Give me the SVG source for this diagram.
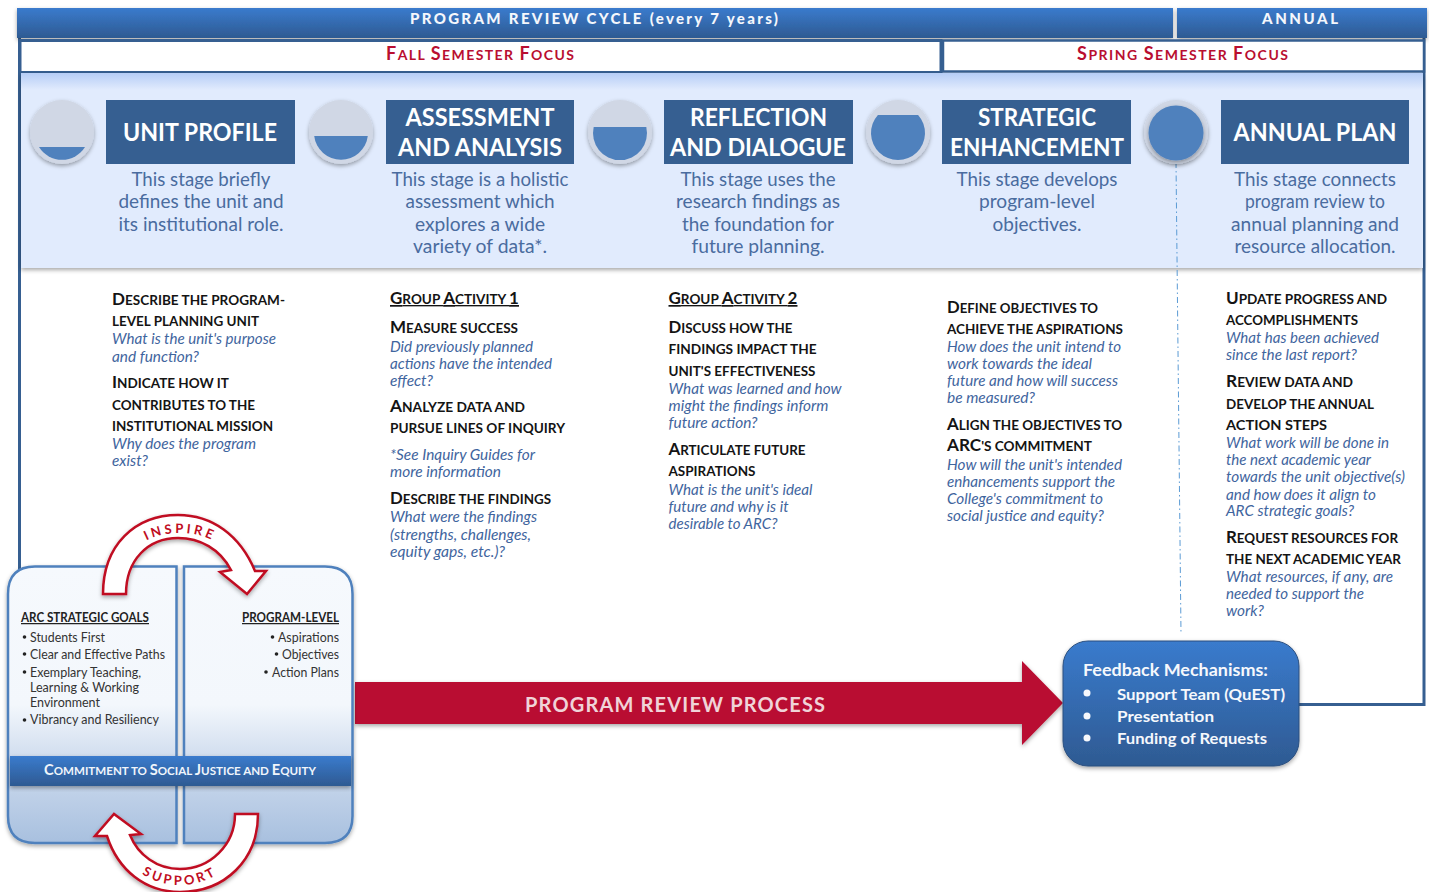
<svg xmlns="http://www.w3.org/2000/svg" width="1429" height="892" viewBox="0 0 1429 892">
<style>
text{font-family:"Lato","Carlito","Open Sans",sans-serif}
.bar{font-weight:900;font-size:15px;fill:#f4f7fc}
.sem{font-weight:700;font-size:14px;fill:#b90e30}
.sem .c{font-size:18px}
.title{font-weight:700;font-size:25px;fill:#fff;text-anchor:middle}
.desc{font-size:18.5px;fill:#4a6c9f;text-anchor:middle}
.h{font-weight:700;font-size:13.500px;fill:#141414}
.c{font-size:17px}
.u{text-decoration:underline}
.q{font-style:italic;font-size:14.500px;fill:#3f659e}
.sq{fill:#365f91}
.disc{fill:#d0d7e5;filter:url(#sh)}
.lvl{fill:#4f81bd}
.pl{fill:url(#pan);stroke:#4f81bd;stroke-width:2.500}
.li{font-size:12.500px;fill:#333}
.lh{font-weight:700;font-size:12.500px;fill:#222;text-decoration:underline}
.dot{fill:#222}
.curve{fill:#fff;stroke:#c00d22;stroke-width:2.500;stroke-linejoin:miter;filter:url(#sh)}
.ct{font-weight:700;font-size:13px;fill:#c00d22;letter-spacing:3px;text-anchor:middle}
.fb{font-weight:700;font-size:16px;fill:#f6f8fc}
.cm{font-size:11.500px;font-weight:700;fill:#f0f5fb}
.cm .c{font-size:14.500px}
</style>
<defs>
<linearGradient id="blue" x1="0" y1="0" x2="0" y2="1"><stop offset="0" stop-color="#3a7bcd"/><stop offset="1" stop-color="#2e5a92"/></linearGradient>
<linearGradient id="pan" x1="0" y1="0" x2="0" y2="1"><stop offset="0" stop-color="#f6f9fd"/><stop offset=".5" stop-color="#f3f7fc"/><stop offset=".7" stop-color="#cfdcee"/><stop offset="1" stop-color="#a8c0df"/></linearGradient>
<linearGradient id="top" x1="0" y1="0" x2="0" y2="1"><stop offset="0" stop-color="#b6cdf6"/><stop offset="1" stop-color="#e1ebfd"/></linearGradient>
<filter id="sh" x="-15%" y="-15%" width="130%" height="135%"><feDropShadow dx="0" dy="2" stdDeviation="2" flood-color="#000" flood-opacity=".35"/></filter>
<path id="inspirePath" d="M117,594 C117,553 145,533 180,533 C215,533 243,553 243,594"/>
<path id="supportPath" d="M109,814 A71 71 0 0 0 251,814"/>
</defs>

<g id="frame">
<path d="M19.500,38V570M1424,38V704.500H1299" fill="none" stroke="#365f91" stroke-width="3"/>
</g>

<g id="header-cycle"><rect x="17" y="8" width="1156" height="30" fill="url(#blue)" filter="url(#sh)"/>
<text class="bar" x="410" y="24" textLength="368" lengthAdjust="spacing">PROGRAM REVIEW CYCLE (every 7 years)</text></g>
<g id="header-annual"><rect x="1177" y="8" width="250" height="30" fill="url(#blue)" filter="url(#sh)"/>
<text class="bar" x="1262" y="24" textLength="76" lengthAdjust="spacing">ANNUAL</text></g>
<g id="fall"><rect x="20" y="40.500" width="921" height="32" fill="#fff" stroke="#365f91" stroke-width="3"/>
<text class="sem" x="386" y="60" textLength="188" lengthAdjust="spacing"><tspan class="c">F</tspan>ALL <tspan class="c">S</tspan>EMESTER <tspan class="c">F</tspan>OCUS</text></g>
<g id="spring"><rect x="943" y="40.500" width="481" height="31" fill="#fff" stroke="#365f91" stroke-width="2.500"/>
<text class="sem" x="1077" y="60" textLength="211" lengthAdjust="spacing"><tspan class="c">S</tspan>PRING <tspan class="c">S</tspan>EMESTER <tspan class="c">F</tspan>OCUS</text></g>

<g id="band">
<rect x="21" y="73" width="1402" height="195" fill="#e1ebfd" filter="url(#sh)"/>
<rect x="21" y="73" width="1402" height="17" fill="url(#top)"/>
</g>

<g id="connectors">
<path d="M1176,162L1181,634" fill="none" stroke="#5b9bd5" stroke-width="1" stroke-dasharray="6 3 1.500 3"/>
<path id="process-arrow" d="M355,682H1022V661L1063,703L1022,745V724H355Z" fill="#b90e30" filter="url(#sh)"/>
</g>
<text id="process-label" x="525" y="712" font-size="20" font-weight="700" fill="#f0d3d8" textLength="300" lengthAdjust="spacing">PROGRAM REVIEW PROCESS</text>

<g id="stage-1">
<circle class="disc" cx="62" cy="132" r="32"/><path class="lvl" d="M39,147H85A27 27 0 0 1 39,147Z"/>
<rect class="sq" x="106" y="100" width="189" height="64"/>
<text class="title" x="200" y="141" textLength="154" lengthAdjust="spacingAndGlyphs">UNIT PROFILE</text>
<text class="desc" x="201" y="186" textLength="139" lengthAdjust="spacingAndGlyphs">This stage briefly</text>
<text class="desc" x="201" y="208" textLength="165" lengthAdjust="spacingAndGlyphs">defines the unit and</text>
<text class="desc" x="201" y="231" textLength="165" lengthAdjust="spacingAndGlyphs">its institutional role.</text>
<text class="h" x="112" y="305" textLength="173" lengthAdjust="spacingAndGlyphs"><tspan class="c">D</tspan>ESCRIBE THE PROGRAM-</text>
<text class="h" x="112" y="326" textLength="147" lengthAdjust="spacingAndGlyphs">LEVEL PLANNING UNIT</text>
<text class="q" x="112" y="344" textLength="164" lengthAdjust="spacingAndGlyphs">What is the unit's purpose</text>
<text class="q" x="112" y="362" textLength="87" lengthAdjust="spacingAndGlyphs">and function?</text>
<text class="h" x="112" y="388" textLength="117" lengthAdjust="spacingAndGlyphs"><tspan class="c">I</tspan>NDICATE HOW IT</text>
<text class="h" x="112" y="410" textLength="143" lengthAdjust="spacingAndGlyphs">CONTRIBUTES TO THE</text>
<text class="h" x="112" y="431" textLength="161" lengthAdjust="spacingAndGlyphs">INSTITUTIONAL MISSION</text>
<text class="q" x="112" y="449" textLength="144" lengthAdjust="spacingAndGlyphs">Why does the program</text>
<text class="q" x="112" y="466" textLength="36" lengthAdjust="spacingAndGlyphs">exist?</text>
</g>

<g id="stage-2">
<circle class="disc" cx="341" cy="132" r="32"/><path class="lvl" d="M314.200,136H367.800A27 27 0 0 1 314.200,136Z"/>
<rect class="sq" x="386" y="100" width="188" height="64"/>
<text class="title" x="480" y="126" textLength="149" lengthAdjust="spacingAndGlyphs">ASSESSMENT</text>
<text class="title" x="480" y="156" textLength="164" lengthAdjust="spacingAndGlyphs">AND ANALYSIS</text>
<text class="desc" x="480" y="186" textLength="177" lengthAdjust="spacingAndGlyphs">This stage is a holistic</text>
<text class="desc" x="480" y="208" textLength="149" lengthAdjust="spacingAndGlyphs">assessment which</text>
<text class="desc" x="480" y="231" textLength="130" lengthAdjust="spacingAndGlyphs">explores a wide</text>
<text class="desc" x="480" y="253" textLength="134" lengthAdjust="spacingAndGlyphs">variety of data*.</text>
<text class="h u" x="390" y="304" textLength="129" lengthAdjust="spacingAndGlyphs"><tspan class="c">G</tspan>ROUP <tspan class="c">A</tspan>CTIVITY <tspan class="c">1</tspan></text>
<text class="h" x="390" y="333" textLength="128" lengthAdjust="spacingAndGlyphs"><tspan class="c">M</tspan>EASURE SUCCESS</text>
<text class="q" x="390" y="352" textLength="143" lengthAdjust="spacingAndGlyphs">Did previously planned</text>
<text class="q" x="390" y="369" textLength="162" lengthAdjust="spacingAndGlyphs">actions have the intended</text>
<text class="q" x="390" y="386" textLength="43" lengthAdjust="spacingAndGlyphs">effect?</text>
<text class="h" x="390" y="412" textLength="135" lengthAdjust="spacingAndGlyphs"><tspan class="c">A</tspan>NALYZE DATA AND</text>
<text class="h" x="390" y="433" textLength="175" lengthAdjust="spacingAndGlyphs">PURSUE LINES OF INQUIRY</text>
<text class="q" x="390" y="460" textLength="145" lengthAdjust="spacingAndGlyphs">*See Inquiry Guides for</text>
<text class="q" x="390" y="477" textLength="111" lengthAdjust="spacingAndGlyphs">more information</text>
<text class="h" x="390" y="504" textLength="161" lengthAdjust="spacingAndGlyphs"><tspan class="c">D</tspan>ESCRIBE THE FINDINGS</text>
<text class="q" x="390" y="522" textLength="147" lengthAdjust="spacingAndGlyphs">What were the findings</text>
<text class="q" x="390" y="540" textLength="141" lengthAdjust="spacingAndGlyphs">(strengths, challenges,</text>
<text class="q" x="390" y="557" textLength="115" lengthAdjust="spacingAndGlyphs">equity gaps, etc.)?</text>
</g>

<g id="stage-3">
<circle class="disc" cx="620" cy="132" r="32"/><path class="lvl" d="M593.700,127H646.300A27 27 0 1 1 593.700,127Z"/>
<rect class="sq" x="664" y="100" width="189" height="64"/>
<text class="title" x="758.500" y="126" textLength="137" lengthAdjust="spacingAndGlyphs">REFLECTION</text>
<text class="title" x="758" y="156" textLength="176" lengthAdjust="spacingAndGlyphs">AND DIALOGUE</text>
<text class="desc" x="758" y="186" textLength="155" lengthAdjust="spacingAndGlyphs">This stage uses the</text>
<text class="desc" x="758" y="208" textLength="164" lengthAdjust="spacingAndGlyphs">research findings as</text>
<text class="desc" x="758" y="231" textLength="152" lengthAdjust="spacingAndGlyphs">the foundation for</text>
<text class="desc" x="758" y="253" textLength="133" lengthAdjust="spacingAndGlyphs">future planning.</text>
<text class="h u" x="668.500" y="304" textLength="129" lengthAdjust="spacingAndGlyphs"><tspan class="c">G</tspan>ROUP <tspan class="c">A</tspan>CTIVITY <tspan class="c">2</tspan></text>
<text class="h" x="668.500" y="333" textLength="124" lengthAdjust="spacingAndGlyphs"><tspan class="c">D</tspan>ISCUSS HOW THE</text>
<text class="h" x="668.500" y="354" textLength="148" lengthAdjust="spacingAndGlyphs">FINDINGS IMPACT THE</text>
<text class="h" x="668.500" y="376" textLength="147" lengthAdjust="spacingAndGlyphs">UNIT'S EFFECTIVENESS</text>
<text class="q" x="668.500" y="394" textLength="173" lengthAdjust="spacingAndGlyphs">What was learned and how</text>
<text class="q" x="668.500" y="411" textLength="160" lengthAdjust="spacingAndGlyphs">might the findings inform</text>
<text class="q" x="668.500" y="428" textLength="89" lengthAdjust="spacingAndGlyphs">future action?</text>
<text class="h" x="668.500" y="455" textLength="137" lengthAdjust="spacingAndGlyphs"><tspan class="c">A</tspan>RTICULATE FUTURE</text>
<text class="h" x="668.500" y="476" textLength="87" lengthAdjust="spacingAndGlyphs">ASPIRATIONS</text>
<text class="q" x="668.500" y="495" textLength="144" lengthAdjust="spacingAndGlyphs">What is the unit's ideal</text>
<text class="q" x="668.500" y="512" textLength="120" lengthAdjust="spacingAndGlyphs">future and why is it</text>
<text class="q" x="668.500" y="529" textLength="109" lengthAdjust="spacingAndGlyphs">desirable to ARC?</text>
</g>

<g id="stage-4">
<circle class="disc" cx="898" cy="132" r="32"/><path class="lvl" d="M877.900,115H918.100A27 27 0 1 1 877.900,115Z"/>
<rect class="sq" x="942" y="100" width="189" height="64"/>
<text class="title" x="1037" y="126" textLength="118" lengthAdjust="spacingAndGlyphs">STRATEGIC</text>
<text class="title" x="1037" y="156" textLength="174" lengthAdjust="spacingAndGlyphs">ENHANCEMENT</text>
<text class="desc" x="1037" y="186" textLength="161" lengthAdjust="spacingAndGlyphs">This stage develops</text>
<text class="desc" x="1037" y="208" textLength="116" lengthAdjust="spacingAndGlyphs">program-level</text>
<text class="desc" x="1037" y="231" textLength="89" lengthAdjust="spacingAndGlyphs">objectives.</text>
<text class="h" x="947" y="313" textLength="151" lengthAdjust="spacingAndGlyphs"><tspan class="c">D</tspan>EFINE OBJECTIVES TO</text>
<text class="h" x="947" y="334" textLength="176" lengthAdjust="spacingAndGlyphs">ACHIEVE THE ASPIRATIONS</text>
<text class="q" x="947" y="352" textLength="174" lengthAdjust="spacingAndGlyphs">How does the unit intend to</text>
<text class="q" x="947" y="369" textLength="145" lengthAdjust="spacingAndGlyphs">work towards the ideal</text>
<text class="q" x="947" y="386" textLength="171" lengthAdjust="spacingAndGlyphs">future and how will success</text>
<text class="q" x="947" y="403" textLength="88" lengthAdjust="spacingAndGlyphs">be measured?</text>
<text class="h" x="947" y="430" textLength="175" lengthAdjust="spacingAndGlyphs"><tspan class="c">A</tspan>LIGN THE OBJECTIVES TO</text>
<text class="h" x="947" y="451" textLength="145" lengthAdjust="spacingAndGlyphs"><tspan class="c">ARC</tspan>'S COMMITMENT</text>
<text class="q" x="947" y="470" textLength="175" lengthAdjust="spacingAndGlyphs">How will the unit's intended</text>
<text class="q" x="947" y="487" textLength="168" lengthAdjust="spacingAndGlyphs">enhancements support the</text>
<text class="q" x="947" y="504" textLength="156" lengthAdjust="spacingAndGlyphs">College's commitment to</text>
<text class="q" x="947" y="521" textLength="157" lengthAdjust="spacingAndGlyphs">social justice and equity?</text>
</g>

<g id="stage-5">
<circle class="disc" cx="1176" cy="132" r="32"/><circle class="lvl" cx="1176" cy="133" r="27.500" filter="url(#sh)"/>
<rect class="sq" x="1221" y="100" width="188" height="64"/>
<text class="title" x="1315" y="141" textLength="163" lengthAdjust="spacingAndGlyphs">ANNUAL PLAN</text>
<text class="desc" x="1315" y="186" textLength="162" lengthAdjust="spacingAndGlyphs">This stage connects</text>
<text class="desc" x="1315" y="208" textLength="140" lengthAdjust="spacingAndGlyphs">program review to</text>
<text class="desc" x="1315" y="231" textLength="168" lengthAdjust="spacingAndGlyphs">annual planning and</text>
<text class="desc" x="1315" y="253" textLength="161" lengthAdjust="spacingAndGlyphs">resource allocation.</text>
<text class="h" x="1226" y="304" textLength="161" lengthAdjust="spacingAndGlyphs"><tspan class="c">U</tspan>PDATE PROGRESS AND</text>
<text class="h" x="1226" y="325" textLength="132" lengthAdjust="spacingAndGlyphs">ACCOMPLISHMENTS</text>
<text class="q" x="1226" y="343" textLength="153" lengthAdjust="spacingAndGlyphs">What has been achieved</text>
<text class="q" x="1226" y="360" textLength="131" lengthAdjust="spacingAndGlyphs">since the last report?</text>
<text class="h" x="1226" y="387" textLength="127" lengthAdjust="spacingAndGlyphs"><tspan class="c">R</tspan>EVIEW DATA AND</text>
<text class="h" x="1226" y="409" textLength="148" lengthAdjust="spacingAndGlyphs">DEVELOP THE ANNUAL</text>
<text class="h" x="1226" y="430" textLength="101" lengthAdjust="spacingAndGlyphs">ACTION STEPS</text>
<text class="q" x="1226" y="448" textLength="163" lengthAdjust="spacingAndGlyphs">What work will be done in</text>
<text class="q" x="1226" y="465" textLength="145" lengthAdjust="spacingAndGlyphs">the next academic year</text>
<text class="q" x="1226" y="482" textLength="179" lengthAdjust="spacingAndGlyphs">towards the unit objective(s)</text>
<text class="q" x="1226" y="500" textLength="150" lengthAdjust="spacingAndGlyphs">and how does it align to</text>
<text class="q" x="1226" y="516" textLength="128" lengthAdjust="spacingAndGlyphs">ARC strategic goals?</text>
<text class="h" x="1226" y="543" textLength="172" lengthAdjust="spacingAndGlyphs"><tspan class="c">R</tspan>EQUEST RESOURCES FOR</text>
<text class="h" x="1226" y="564" textLength="175" lengthAdjust="spacingAndGlyphs">THE NEXT ACADEMIC YEAR</text>
<text class="q" x="1226" y="582" textLength="167" lengthAdjust="spacingAndGlyphs">What resources, if any, are</text>
<text class="q" x="1226" y="599" textLength="138" lengthAdjust="spacingAndGlyphs">needed to support the</text>
<text class="q" x="1226" y="616" textLength="38" lengthAdjust="spacingAndGlyphs">work?</text>
</g>

<g id="feedback">
<rect x="1063" y="641" width="236" height="125" rx="25" fill="url(#blue)" stroke="#2b4f7f" stroke-width="1" filter="url(#sh)"/>
<text class="fb" x="1083" y="676" style="font-size:17.500px" textLength="185" lengthAdjust="spacingAndGlyphs">Feedback Mechanisms:</text>
<circle cx="1087" cy="693" r="3.500" fill="#f6f8fc"/><circle cx="1087" cy="716" r="3.500" fill="#f6f8fc"/><circle cx="1087" cy="738" r="3.500" fill="#f6f8fc"/>
<text class="fb" x="1117" y="700" textLength="168" lengthAdjust="spacingAndGlyphs">Support Team (QuEST)</text>
<text class="fb" x="1117" y="722" textLength="97" lengthAdjust="spacingAndGlyphs">Presentation</text>
<text class="fb" x="1117" y="744" textLength="150" lengthAdjust="spacingAndGlyphs">Funding of Requests</text>
</g>

<g id="goals-panel">
<path class="pl" d="M176.500,566.500V843H35Q8,843 8,816V594Q8,566.500 35,566.500Z" filter="url(#sh)"/>
<text class="lh" x="21" y="622" textLength="128" lengthAdjust="spacingAndGlyphs">ARC STRATEGIC GOALS</text>
<g><circle class="dot" cx="24.500" cy="637" r="1.800"/><circle class="dot" cx="24.500" cy="654" r="1.800"/><circle class="dot" cx="24.500" cy="672" r="1.800"/><circle class="dot" cx="24.500" cy="720" r="1.800"/></g>
<text class="li" x="30" y="642" textLength="75" lengthAdjust="spacingAndGlyphs">Students First</text>
<text class="li" x="30" y="659" textLength="135" lengthAdjust="spacingAndGlyphs">Clear and Effective Paths</text>
<text class="li" x="30" y="677" textLength="111" lengthAdjust="spacingAndGlyphs">Exemplary Teaching,</text>
<text class="li" x="30" y="692" textLength="109" lengthAdjust="spacingAndGlyphs">Learning &amp; Working</text>
<text class="li" x="30" y="707" textLength="70" lengthAdjust="spacingAndGlyphs">Environment</text>
<text class="li" x="30" y="724" textLength="129" lengthAdjust="spacingAndGlyphs">Vibrancy and Resiliency</text>
</g>
<g id="program-panel">
<path class="pl" d="M184,566.500V843H325Q352.500,843 352.500,816V594Q352.500,566.500 325,566.500Z" filter="url(#sh)"/>
<text class="lh" x="242" y="622" textLength="97" lengthAdjust="spacingAndGlyphs">PROGRAM-LEVEL</text>
<g><circle class="dot" cx="272.500" cy="637" r="1.800"/><circle class="dot" cx="276.500" cy="654" r="1.800"/><circle class="dot" cx="266" cy="672" r="1.800"/></g>
<text class="li" x="278" y="642" textLength="61" lengthAdjust="spacingAndGlyphs">Aspirations</text>
<text class="li" x="282" y="659" textLength="57" lengthAdjust="spacingAndGlyphs">Objectives</text>
<text class="li" x="272" y="677" textLength="67" lengthAdjust="spacingAndGlyphs">Action Plans</text>
</g>
<g id="commitment">
<rect x="10" y="756" width="341" height="30" fill="url(#blue)" filter="url(#sh)"/>
<text class="cm" x="44" y="775" textLength="272" lengthAdjust="spacingAndGlyphs"><tspan class="c">C</tspan>OMMITMENT TO <tspan class="c">S</tspan>OCIAL <tspan class="c">J</tspan>USTICE AND <tspan class="c">E</tspan>QUITY</text>
</g>

<g id="inspire">
<path class="curve" d="M103,594C103,545 135,515 178,515C212,515 240,535 255,571L266,571L247,594L220,572L231,570C220,549 200,538 178,538C148,538 126,560 126,594Z"/>
<text class="ct"><textPath href="#inspirePath" startOffset="50%">INSPIRE</textPath></text>
</g>
<g id="support">
<path class="curve" d="M258,814C258,860 225,892 180,892C145,892 118,870 107,836L95,836L114,814L141,834L130,835C138,855 157,869 180,869C210,869 235,845 235,814Z"/>
<text class="ct"><textPath href="#supportPath" startOffset="50%">SUPPORT</textPath></text>
</g>
</svg>
